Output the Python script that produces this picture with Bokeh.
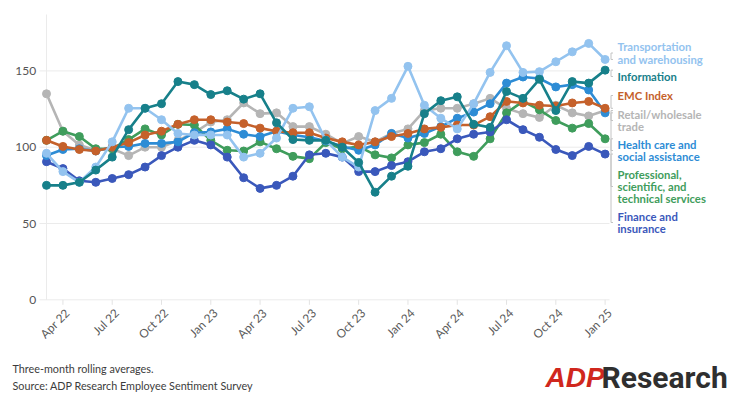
import math
from bokeh.plotting import figure
from bokeh.embed import file_html
from bokeh.resources import INLINE
from bokeh.core.properties import value

# ---------------- data ----------------
months = ["Mar 22", "Apr 22", "May 22", "Jun 22", "Jul 22", "Aug 22", "Sep 22", "Oct 22",
          "Nov 22", "Dec 22", "Jan 23", "Feb 23", "Mar 23", "Apr 23", "May 23", "Jun 23",
          "Jul 23", "Aug 23", "Sep 23", "Oct 23", "Nov 23", "Dec 23", "Jan 24", "Feb 24",
          "Mar 24", "Apr 24", "May 24", "Jun 24", "Jul 24", "Aug 24", "Sep 24", "Oct 24",
          "Nov 24", "Dec 24", "Jan 25"]
tick_labels = ["Apr 22", "Jul 22", "Oct 22", "Jan 23", "Apr 23", "Jul 23", "Oct 23",
               "Jan 24", "Apr 24", "Jul 24", "Oct 24", "Jan 25"]
y_ticks = [0, 50, 100, 150]

retail = [135, 110.5, 101.5, 98, 99, 94.5, 100, 100, 104.5, 109.5, 116.5, 118, 129, 122,
          122.5, 113.5, 113.5, 108.5, 102.5, 107, 103.5, 109, 112, 124, 125.5, 125.5, 128.5,
          132, 125.5, 122, 119.5, 127.5, 122.5, 120.5, 124]
professional = [104.5, 110.5, 107, 99, 99, 105, 112, 108, 115, 114.5, 104.5, 98, 97.5, 103.5,
                99, 94, 92.5, 103, 99, 100.5, 95, 93, 101.5, 103, 108.5, 97, 94, 105.5, 122.5,
                130, 124.5, 117.5, 112.5, 115.5, 105.5]
finance = [90.5, 86, 78, 77, 79.5, 82, 87, 94.5, 100, 104.5, 101.5, 93.5, 80, 73, 75, 81, 95,
           96, 93.5, 84, 84, 88, 90.5, 97, 99, 105.5, 108.5, 110, 118, 111.5, 106.5, 98.5,
           94.5, 100.5, 95.5]
health = [94.5, 98.5, 99, 97.5, 100, 100.5, 102.5, 102.5, 103.5, 109.5, 110, 112, 108.5, 107,
          110.5, 108, 106.5, 104, 100.5, 98, 101.5, 109, 106, 109, 113.5, 119, 123, 128.5, 142,
          146, 145, 139.5, 141, 137.5, 122.5]
emc = [104.5, 100.5, 98.5, 97.5, 100, 103, 108, 110.5, 115, 118, 118, 116.5, 115.5, 112.5,
       110.5, 109.5, 109.5, 106, 103.5, 101.5, 103.5, 107, 109, 112, 113, 114.5, 114.5, 120,
       130, 129, 127.5, 127, 129, 130, 125.5]
transport = [96, 84, 77, 87, 103.5, 125.5, 125.5, 118, 109, 108, 108, 108, 93.5, 96, 106,
             125.5, 126.5, 104.5, 93.5, 87, 124, 132, 153, 127.5, 119, 112, 128.5, 149, 166.5,
             149, 149.5, 156, 162.5, 168, 157.5]
information = [75, 75, 77, 85, 93.5, 111.5, 125.5, 128.5, 143, 141, 134.5, 137, 131.5, 135,
               116, 105, 104.5, 104.5, 100, 90, 70.5, 81, 87.5, 122, 130.5, 133, 115, 113,
               136.5, 132, 144.5, 124, 143, 142, 150.5]

series_names = ["Retail/wholesale trade", "Professional, scientific, and technical services",
                "Finance and insurance", "Health care and social assistance", "EMC Index",
                "Transportation and warehousing", "Information"]
series_values = [retail, professional, finance, health, emc, transport, information]
series_colors = ["#b5b5b5", "#3f9d5c", "#3a58bb", "#2d8cd5", "#c5612b", "#93c3ef", "#17808a"]
label_lines = [["Retail/wholesale", "trade"],
               ["Professional,", "scientific, and", "technical services"],
               ["Finance and", "insurance"],
               ["Health care and", "social assistance"],
               ["EMC Index"],
               ["Transportation", "and warehousing"],
               ["Information"]]

footer_lines = ["Three-month rolling averages.",
                "Source: ADP Research Employee Sentiment Survey"]

# ---------------- layout helpers (page pixels -> data units) ----------------
W, H = 730, 399
OFF = 0                    # canvas origin on the page
X0, PX = 46.0, 16.43       # page x of first month, pixels per month
Y0, UY = 299.3, 1.526      # page y of value 0, pixels per value unit


def gx(px):
    return (px - X0) / PX


def gy(py):
    return (Y0 - py) / UY


p = figure(width=W, height=H, x_range=(gx(OFF), gx(OFF + W)), y_range=(gy(OFF + H), gy(OFF)),
           output_backend="svg", toolbar_location=None, x_axis_type=None, y_axis_type=None,
           min_border=0)
p.outline_line_color = None
p.background_fill_color = "white"
p.border_fill_color = "white"
p.xgrid.visible = False
p.ygrid.visible = False

x = list(range(len(months)))
last = len(months) - 1
tick_idx = [months.index(t) for t in tick_labels]

# grid lines
p.segment(x0=gx(39), x1=gx(609), y0=y_ticks, y1=y_ticks, line_color="#ebebeb", line_width=1)
p.segment(x0=[0], x1=[0], y0=[0], y1=[gy(14)], line_color="#ebebeb", line_width=1)

# x ticks and labels
p.segment(x0=tick_idx, x1=tick_idx, y0=0, y1=gy(Y0 + 5), line_color="#e3e3e3", line_width=1)
p.text(x=[i + 4.5 / PX for i in tick_idx], y=gy(Y0 + 11), text=tick_labels,
       angle=math.pi / 4, text_align="right", text_baseline="middle",
       text_font=value("Lato"), text_font_size="11.8px", text_color="#5a5a5a")

# y labels
p.text(x=gx(35.7), y=y_ticks, text=[str(v) for v in y_ticks], text_align="right",
       text_baseline="middle", text_font=value("Lato"), text_font_size="12px",
       text_color="#555555")

# label block centres (page y) for the end-of-line labels
label_centres = [gy(120), gy(186), gy(222), gy(150), gy(95), gy(52.5), gy(76)]

# leader brackets
xa, xb = gx(610.5), gx(612.5)
for vals, cen in zip(series_values, label_centres):
    y0, y1 = vals[-1], cen
    p.line(x=[xb, xa, xa, xb], y=[y0, y0, y1, y1], line_color="#c4c4c4", line_width=1)

# series
for name, vals, col in zip(series_names, series_values, series_colors):
    p.line(x, vals, line_color=col, line_width=2.6)
    p.scatter(x, vals, size=8, fill_color=col, line_color=col)

# end labels
line_h = 12.2 / UY
for lines, cen, col in zip(label_lines, label_centres, series_colors):
    n = len(lines)
    ys = [cen + ((n - 1) / 2 - k) * line_h for k in range(n)]
    p.text(x=[gx(617)] * n, y=ys, text=lines, text_color=col, text_font=value("Lato"),
           text_font_style="bold", text_font_size="11.3px", text_baseline="middle",
           text_align="left")

# footer
p.text(x=[gx(12), gx(12)], y=[gy(368), gy(385)], text=footer_lines,
       text_font=value("Lato"), text_font_size="10.8px", text_color="#3c3c3c",
       text_baseline="middle", text_align="left")

# logo
p.text(x=[gx(545)], y=[gy(377)], text=["ADP"], text_font=value("Liberation Sans"),
       text_font_style="bold italic", text_font_size="28px", text_color="#d0271d",
       text_baseline="middle", text_align="left")
p.text(x=[gx(601)], y=[gy(377)], text=["Research"], text_font=value("Roboto"),
       text_font_style="bold", text_font_size="30px", text_color="#2f2f2f",
       text_baseline="middle", text_align="left")

open("out.html", "w").write(file_html(p, INLINE))
